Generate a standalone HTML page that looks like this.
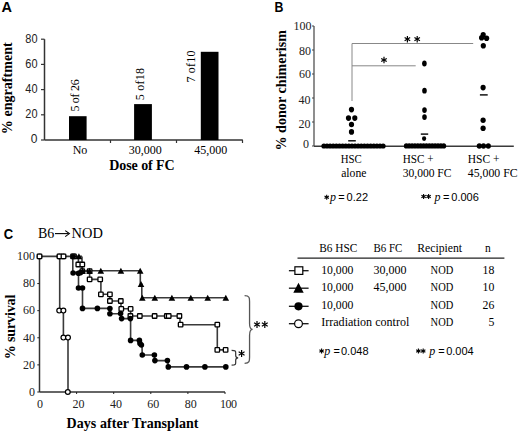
<!DOCTYPE html>
<html><head><meta charset="utf-8"><style>
html,body{margin:0;padding:0;background:#fff;}
body{width:520px;height:433px;overflow:hidden;font-family:"Liberation Serif", serif;}
svg{display:block;}
</style></head><body>
<svg width="520" height="433" viewBox="0 0 520 433">
<rect width="520" height="433" fill="#fff"/>
<text x="1.6" y="12" font-family='"Liberation Sans", sans-serif' font-size="14.5" font-weight="bold" font-style="normal" text-anchor="start" fill="#000">A</text>
<line x1="44.5" y1="39.2" x2="44.5" y2="140" stroke="#333" stroke-width="1.5"/>
<line x1="41" y1="140.0" x2="44.5" y2="140.0" stroke="#333" stroke-width="1.2"/>
<text x="37.5" y="143.4" font-family='"Liberation Sans", sans-serif' font-size="12" font-weight="normal" font-style="normal" text-anchor="end" fill="#222">0</text>
<line x1="41" y1="114.8" x2="44.5" y2="114.8" stroke="#333" stroke-width="1.2"/>
<text x="37.5" y="118.2" font-family='"Liberation Sans", sans-serif' font-size="12" font-weight="normal" font-style="normal" text-anchor="end" fill="#222" textLength="12.2" lengthAdjust="spacingAndGlyphs">20</text>
<line x1="41" y1="89.6" x2="44.5" y2="89.6" stroke="#333" stroke-width="1.2"/>
<text x="37.5" y="93.0" font-family='"Liberation Sans", sans-serif' font-size="12" font-weight="normal" font-style="normal" text-anchor="end" fill="#222" textLength="12.2" lengthAdjust="spacingAndGlyphs">40</text>
<line x1="41" y1="64.4" x2="44.5" y2="64.4" stroke="#333" stroke-width="1.2"/>
<text x="37.5" y="67.80000000000001" font-family='"Liberation Sans", sans-serif' font-size="12" font-weight="normal" font-style="normal" text-anchor="end" fill="#222" textLength="12.2" lengthAdjust="spacingAndGlyphs">60</text>
<line x1="41" y1="39.2" x2="44.5" y2="39.2" stroke="#333" stroke-width="1.2"/>
<text x="37.5" y="42.6" font-family='"Liberation Sans", sans-serif' font-size="12" font-weight="normal" font-style="normal" text-anchor="end" fill="#222" textLength="12.2" lengthAdjust="spacingAndGlyphs">80</text>
<line x1="44.5" y1="140" x2="242.8" y2="140" stroke="#333" stroke-width="1.5"/>
<line x1="110.5" y1="140" x2="110.5" y2="143" stroke="#333" stroke-width="1.2"/>
<line x1="176.5" y1="140" x2="176.5" y2="143" stroke="#333" stroke-width="1.2"/>
<line x1="242.5" y1="140" x2="242.5" y2="143" stroke="#333" stroke-width="1.2"/>
<rect x="69" y="116.2" width="17.6" height="23.799999999999997" fill="#000"/>
<rect x="134.1" y="104.1" width="17.8" height="35.900000000000006" fill="#000"/>
<rect x="200.8" y="51.8" width="17.7" height="88.2" fill="#000"/>
<text x="78.7" y="111.6" font-family='"Liberation Serif", serif' font-size="12" font-weight="normal" font-style="normal" text-anchor="start" fill="#000" textLength="32.4" lengthAdjust="spacing" transform="rotate(-90 78.7 111.6)">5 of 26</text>
<text x="143.7" y="100.2" font-family='"Liberation Serif", serif' font-size="12" font-weight="normal" font-style="normal" text-anchor="start" fill="#000" textLength="32.2" lengthAdjust="spacing" transform="rotate(-90 143.7 100.2)">5 of18</text>
<text x="195.4" y="82.6" font-family='"Liberation Serif", serif' font-size="12" font-weight="normal" font-style="normal" text-anchor="start" fill="#000" textLength="32.2" lengthAdjust="spacing" transform="rotate(-90 195.4 82.6)">7 of10</text>
<text x="80" y="154" font-family='"Liberation Serif", serif' font-size="12" font-weight="normal" font-style="normal" text-anchor="middle" fill="#000">No</text>
<text x="145.2" y="154" font-family='"Liberation Serif", serif' font-size="12" font-weight="normal" font-style="normal" text-anchor="middle" fill="#000">30,000</text>
<text x="210.8" y="154" font-family='"Liberation Serif", serif' font-size="12" font-weight="normal" font-style="normal" text-anchor="middle" fill="#000">45,000</text>
<text x="109.2" y="170" font-family='"Liberation Serif", serif' font-size="14" font-weight="bold" font-style="normal" text-anchor="start" fill="#000" textLength="65.5" lengthAdjust="spacing">Dose of FC</text>
<text x="12.4" y="134.2" font-family='"Liberation Serif", serif' font-size="14" font-weight="bold" font-style="normal" text-anchor="start" fill="#000" textLength="92" lengthAdjust="spacing" transform="rotate(-90 12.4 134.2)">% engraftment</text>
<text x="274.4" y="12" font-family='"Liberation Sans", sans-serif' font-size="14.2" font-weight="bold" font-style="normal" text-anchor="start" fill="#000" textLength="8.9" lengthAdjust="spacingAndGlyphs">B</text>
<line x1="314" y1="26" x2="314" y2="146" stroke="#444" stroke-width="1.2"/>
<line x1="312" y1="146.0" x2="314" y2="146.0" stroke="#444" stroke-width="1"/>
<line x1="312" y1="122.0" x2="314" y2="122.0" stroke="#444" stroke-width="1"/>
<line x1="312" y1="98.0" x2="314" y2="98.0" stroke="#444" stroke-width="1"/>
<line x1="312" y1="74.0" x2="314" y2="74.0" stroke="#444" stroke-width="1"/>
<line x1="312" y1="50.0" x2="314" y2="50.0" stroke="#444" stroke-width="1"/>
<line x1="312" y1="26.0" x2="314" y2="26.0" stroke="#444" stroke-width="1"/>
<text x="311.6" y="29.7" font-family='"Liberation Serif", serif' font-size="12" font-weight="normal" font-style="normal" text-anchor="end" fill="#222">100</text>
<text x="311.0" y="54.7" font-family='"Liberation Serif", serif' font-size="12" font-weight="normal" font-style="normal" text-anchor="end" fill="#222">80</text>
<text x="311.0" y="78.3" font-family='"Liberation Serif", serif' font-size="12" font-weight="normal" font-style="normal" text-anchor="end" fill="#222">60</text>
<text x="310.6" y="103.9" font-family='"Liberation Serif", serif' font-size="12" font-weight="normal" font-style="normal" text-anchor="end" fill="#222">40</text>
<text x="310.6" y="127.5" font-family='"Liberation Serif", serif' font-size="12" font-weight="normal" font-style="normal" text-anchor="end" fill="#222">20</text>
<text x="309.0" y="148.3" font-family='"Liberation Serif", serif' font-size="12" font-weight="normal" font-style="normal" text-anchor="end" fill="#222">0</text>
<line x1="314" y1="146.3" x2="513.8" y2="146.3" stroke="#3a3a3a" stroke-width="1.6"/>
<line x1="352" y1="43.5" x2="352" y2="101" stroke="#888" stroke-width="1"/>
<line x1="352" y1="43.5" x2="473.2" y2="43.5" stroke="#888" stroke-width="1"/>
<line x1="352" y1="65.8" x2="415.7" y2="65.8" stroke="#888" stroke-width="1"/>
<line x1="384.0" y1="56.8" x2="384.0" y2="63.2" stroke="#000" stroke-width="1.2"/>
<line x1="386.77" y1="58.4" x2="381.23" y2="61.6" stroke="#000" stroke-width="1.2"/>
<line x1="386.77" y1="61.6" x2="381.23" y2="58.4" stroke="#000" stroke-width="1.2"/>
<line x1="407.4" y1="36.0" x2="407.4" y2="42.4" stroke="#000" stroke-width="1.2"/>
<line x1="410.17" y1="37.6" x2="404.63" y2="40.8" stroke="#000" stroke-width="1.2"/>
<line x1="410.17" y1="40.8" x2="404.63" y2="37.6" stroke="#000" stroke-width="1.2"/>
<line x1="417.2" y1="36.0" x2="417.2" y2="42.4" stroke="#000" stroke-width="1.2"/>
<line x1="419.97" y1="37.6" x2="414.43" y2="40.8" stroke="#000" stroke-width="1.2"/>
<line x1="419.97" y1="40.8" x2="414.43" y2="37.6" stroke="#000" stroke-width="1.2"/>
<ellipse cx="323.9" cy="146.0" rx="2.55" ry="2.6" fill="#000"/>
<ellipse cx="327.02" cy="146.0" rx="2.55" ry="2.6" fill="#000"/>
<ellipse cx="330.13" cy="146.0" rx="2.55" ry="2.6" fill="#000"/>
<ellipse cx="333.25" cy="146.0" rx="2.55" ry="2.6" fill="#000"/>
<ellipse cx="336.36" cy="146.0" rx="2.55" ry="2.6" fill="#000"/>
<ellipse cx="339.48" cy="146.0" rx="2.55" ry="2.6" fill="#000"/>
<ellipse cx="342.6" cy="146.0" rx="2.55" ry="2.6" fill="#000"/>
<ellipse cx="345.71" cy="146.0" rx="2.55" ry="2.6" fill="#000"/>
<ellipse cx="348.83" cy="146.0" rx="2.55" ry="2.6" fill="#000"/>
<ellipse cx="351.94" cy="146.0" rx="2.55" ry="2.6" fill="#000"/>
<ellipse cx="355.06" cy="146.0" rx="2.55" ry="2.6" fill="#000"/>
<ellipse cx="358.18" cy="146.0" rx="2.55" ry="2.6" fill="#000"/>
<ellipse cx="361.29" cy="146.0" rx="2.55" ry="2.6" fill="#000"/>
<ellipse cx="364.41" cy="146.0" rx="2.55" ry="2.6" fill="#000"/>
<ellipse cx="367.52" cy="146.0" rx="2.55" ry="2.6" fill="#000"/>
<ellipse cx="370.64" cy="146.0" rx="2.55" ry="2.6" fill="#000"/>
<ellipse cx="373.76" cy="146.0" rx="2.55" ry="2.6" fill="#000"/>
<ellipse cx="376.87" cy="146.0" rx="2.55" ry="2.6" fill="#000"/>
<ellipse cx="379.99" cy="146.0" rx="2.55" ry="2.6" fill="#000"/>
<ellipse cx="383.1" cy="146.0" rx="2.55" ry="2.6" fill="#000"/>
<ellipse cx="351.5" cy="109.6" rx="2.6" ry="2.8" fill="#000"/>
<ellipse cx="348.5" cy="118.1" rx="2.6" ry="2.8" fill="#000"/>
<ellipse cx="354.8" cy="118.1" rx="2.6" ry="2.8" fill="#000"/>
<ellipse cx="351.5" cy="124.5" rx="2.6" ry="2.8" fill="#000"/>
<ellipse cx="351.5" cy="131.9" rx="2.6" ry="2.8" fill="#000"/>
<line x1="348.2" y1="140.8" x2="355.8" y2="140.8" stroke="#000" stroke-width="1.4"/>
<ellipse cx="406.3" cy="145.9" rx="2.45" ry="2.6" fill="#000"/>
<ellipse cx="409.18" cy="145.9" rx="2.45" ry="2.6" fill="#000"/>
<ellipse cx="412.06" cy="145.9" rx="2.45" ry="2.6" fill="#000"/>
<ellipse cx="414.94" cy="145.9" rx="2.45" ry="2.6" fill="#000"/>
<ellipse cx="417.82" cy="145.9" rx="2.45" ry="2.6" fill="#000"/>
<ellipse cx="420.7" cy="145.9" rx="2.45" ry="2.6" fill="#000"/>
<ellipse cx="423.58" cy="145.9" rx="2.45" ry="2.6" fill="#000"/>
<ellipse cx="426.46" cy="145.9" rx="2.45" ry="2.6" fill="#000"/>
<ellipse cx="429.34" cy="145.9" rx="2.45" ry="2.6" fill="#000"/>
<ellipse cx="432.22" cy="145.9" rx="2.45" ry="2.6" fill="#000"/>
<ellipse cx="435.1" cy="145.9" rx="2.45" ry="2.6" fill="#000"/>
<ellipse cx="437.98" cy="145.9" rx="2.45" ry="2.6" fill="#000"/>
<ellipse cx="440.86" cy="145.9" rx="2.45" ry="2.6" fill="#000"/>
<ellipse cx="443.74" cy="145.9" rx="2.45" ry="2.6" fill="#000"/>
<ellipse cx="424.4" cy="63.5" rx="2.3" ry="2.9" fill="#000"/>
<ellipse cx="424.5" cy="90.7" rx="2.3" ry="2.9" fill="#000"/>
<ellipse cx="424.5" cy="110.1" rx="2.3" ry="2.9" fill="#000"/>
<ellipse cx="424.5" cy="117.1" rx="2.3" ry="2.9" fill="#000"/>
<ellipse cx="424.1" cy="138.6" rx="2.1" ry="2.3" fill="#000"/>
<line x1="420.8" y1="134.1" x2="428.2" y2="134.1" stroke="#000" stroke-width="1.4"/>
<ellipse cx="479.3" cy="146" rx="2.6" ry="2.8" fill="#000"/>
<ellipse cx="483.5" cy="146" rx="2.6" ry="2.8" fill="#000"/>
<ellipse cx="488.3" cy="146" rx="2.6" ry="2.8" fill="#000"/>
<ellipse cx="483.2" cy="34.8" rx="2.6" ry="2.8" fill="#000"/>
<ellipse cx="486.6" cy="38.2" rx="2.6" ry="2.8" fill="#000"/>
<ellipse cx="481.6" cy="37.7" rx="2.6" ry="2.8" fill="#000"/>
<ellipse cx="483.3" cy="45.8" rx="2.6" ry="2.8" fill="#000"/>
<ellipse cx="483.1" cy="87.6" rx="2.6" ry="2.8" fill="#000"/>
<ellipse cx="483.1" cy="120.2" rx="2.6" ry="2.8" fill="#000"/>
<ellipse cx="483.1" cy="128.2" rx="2.6" ry="2.8" fill="#000"/>
<line x1="479.9" y1="94.9" x2="487.7" y2="94.9" stroke="#000" stroke-width="1.4"/>
<text x="351.3" y="162.5" font-family='"Liberation Serif", serif' font-size="11.5" font-weight="normal" font-style="normal" text-anchor="middle" fill="#000" textLength="21" lengthAdjust="spacingAndGlyphs">HSC</text>
<text x="341.2" y="176.5" font-family='"Liberation Serif", serif' font-size="12" font-weight="normal" font-style="normal" text-anchor="start" fill="#000" textLength="25.3" lengthAdjust="spacingAndGlyphs">alone</text>
<text x="402.7" y="162.5" font-family='"Liberation Serif", serif' font-size="11.5" font-weight="normal" font-style="normal" text-anchor="start" fill="#000" textLength="30.8" lengthAdjust="spacingAndGlyphs">HSC +</text>
<text x="402.7" y="176.5" font-family='"Liberation Serif", serif' font-size="11.5" font-weight="normal" font-style="normal" text-anchor="start" fill="#000" textLength="48.8" lengthAdjust="spacingAndGlyphs">30,000 FC</text>
<text x="467.8" y="162.5" font-family='"Liberation Serif", serif' font-size="11.5" font-weight="normal" font-style="normal" text-anchor="start" fill="#000" textLength="31.8" lengthAdjust="spacingAndGlyphs">HSC +</text>
<text x="467.8" y="176.5" font-family='"Liberation Serif", serif' font-size="11.5" font-weight="normal" font-style="normal" text-anchor="start" fill="#000" textLength="49.8" lengthAdjust="spacingAndGlyphs">45,000 FC</text>
<text x="286.0" y="150.5" font-family='"Liberation Serif", serif' font-size="14" font-weight="bold" font-style="normal" text-anchor="start" fill="#000" textLength="120.5" lengthAdjust="spacing" transform="rotate(-90 286.0 150.5)">% donor chimerism</text>
<text x="3.7" y="238.6" font-family='"Liberation Sans", sans-serif' font-size="15" font-weight="bold" font-style="normal" text-anchor="start" fill="#000" textLength="9.4" lengthAdjust="spacingAndGlyphs">C</text>
<text x="38.0" y="237.6" font-family='"Liberation Serif", serif' font-size="14" font-weight="normal" font-style="normal" text-anchor="start" fill="#000">B6</text>
<line x1="55" y1="233.6" x2="68.5" y2="233.6" stroke="#000" stroke-width="1.1"/>
<path d="M65.2,230.6 L69.4,233.6 L65.2,236.6" stroke="#000" stroke-width="1.1" fill="none"/>
<text x="71.6" y="237.6" font-family='"Liberation Serif", serif' font-size="14" font-weight="normal" font-style="normal" text-anchor="start" fill="#000" textLength="31.2" lengthAdjust="spacingAndGlyphs">NOD</text>
<line x1="39.5" y1="255.5" x2="39.5" y2="392" stroke="#333" stroke-width="1.5"/>
<line x1="39.5" y1="392" x2="225" y2="392" stroke="#333" stroke-width="1.5"/>
<line x1="37.3" y1="392.0" x2="39.5" y2="392.0" stroke="#222" stroke-width="1"/>
<text x="35" y="395.8" font-family='"Liberation Serif", serif' font-size="12" font-weight="normal" font-style="normal" text-anchor="end" fill="#222">0</text>
<line x1="37.3" y1="364.89" x2="39.5" y2="364.89" stroke="#222" stroke-width="1"/>
<text x="35" y="368.69" font-family='"Liberation Serif", serif' font-size="12" font-weight="normal" font-style="normal" text-anchor="end" fill="#222">20</text>
<line x1="37.3" y1="337.78" x2="39.5" y2="337.78" stroke="#222" stroke-width="1"/>
<text x="35" y="341.58" font-family='"Liberation Serif", serif' font-size="12" font-weight="normal" font-style="normal" text-anchor="end" fill="#222">40</text>
<line x1="37.3" y1="310.67" x2="39.5" y2="310.67" stroke="#222" stroke-width="1"/>
<text x="35" y="314.47" font-family='"Liberation Serif", serif' font-size="12" font-weight="normal" font-style="normal" text-anchor="end" fill="#222">60</text>
<line x1="37.3" y1="283.56" x2="39.5" y2="283.56" stroke="#222" stroke-width="1"/>
<text x="35" y="287.36" font-family='"Liberation Serif", serif' font-size="12" font-weight="normal" font-style="normal" text-anchor="end" fill="#222">80</text>
<line x1="37.3" y1="256.45000000000005" x2="39.5" y2="256.45000000000005" stroke="#222" stroke-width="1"/>
<text x="35" y="260.25000000000006" font-family='"Liberation Serif", serif' font-size="12" font-weight="normal" font-style="normal" text-anchor="end" fill="#222">100</text>
<line x1="76.6" y1="392" x2="76.6" y2="394" stroke="#222" stroke-width="1"/>
<line x1="113.7" y1="392" x2="113.7" y2="394" stroke="#222" stroke-width="1"/>
<line x1="150.8" y1="392" x2="150.8" y2="394" stroke="#222" stroke-width="1"/>
<line x1="187.9" y1="392" x2="187.9" y2="394" stroke="#222" stroke-width="1"/>
<line x1="225.0" y1="392" x2="225.0" y2="394" stroke="#222" stroke-width="1"/>
<text x="40.0" y="407.5" font-family='"Liberation Serif", serif' font-size="12" font-weight="normal" font-style="normal" text-anchor="middle" fill="#222">0</text>
<text x="78.6" y="407.5" font-family='"Liberation Serif", serif' font-size="12" font-weight="normal" font-style="normal" text-anchor="middle" fill="#222">20</text>
<text x="116.10000000000001" y="407.5" font-family='"Liberation Serif", serif' font-size="12" font-weight="normal" font-style="normal" text-anchor="middle" fill="#222">40</text>
<text x="153.3" y="407.5" font-family='"Liberation Serif", serif' font-size="12" font-weight="normal" font-style="normal" text-anchor="middle" fill="#222">60</text>
<text x="190.8" y="407.5" font-family='"Liberation Serif", serif' font-size="12" font-weight="normal" font-style="normal" text-anchor="middle" fill="#222">80</text>
<text x="228.5" y="407.5" font-family='"Liberation Serif", serif' font-size="12" font-weight="normal" font-style="normal" text-anchor="middle" fill="#222" textLength="17.2" lengthAdjust="spacing">100</text>
<text x="15.3" y="359.2" font-family='"Liberation Serif", serif' font-size="14" font-weight="bold" font-style="normal" text-anchor="start" fill="#000" textLength="64.5" lengthAdjust="spacing" transform="rotate(-90 15.3 359.2)">% survival</text>
<text x="66.5" y="428.2" font-family='"Liberation Serif", serif' font-size="14" font-weight="bold" font-style="normal" text-anchor="start" fill="#000" textLength="132" lengthAdjust="spacing">Days after Transplant</text>
<path d="M39.5,256.4 L82,256.4" stroke="#3a3a3a" stroke-width="1.6" fill="none"/>
<path d="M59.7,256.4 L59.7,310.6 L63.4,310.6 L63.4,337.6 L68,337.6 L68,392" stroke="#3a3a3a" stroke-width="1.6" fill="none"/>
<path d="M72.8,256.4 L72.8,272.6 L78.5,272.6 L78.5,288 L82.5,288 L82.5,308.4 L109.9,308.4 L109.9,313.7 L121.2,313.7 L121.2,318.6 L130.6,318.6 L130.6,340.4 L139.6,340.4 L140.5,344 L142,345 L142.2,355 L154.6,355 L154.6,360.6 L168,360.6 L168,366.9 L225.8,366.9" stroke="#3a3a3a" stroke-width="1.6" fill="none"/>
<path d="M82,256.4 L82,270.8 L140.3,270.8 L140.3,284.2 L141.8,284.2 L141.8,297.8 L225.8,297.8" stroke="#3a3a3a" stroke-width="1.6" fill="none"/>
<path d="M78.4,256.4 L78.4,264.5 L82.3,264.5 L82.3,271.2 L89.6,271.2 L89.6,279.4 L100.9,279.4 L100.9,294.3 L109.9,294.3 L109.9,301 L121,301 L121,308.8 L130.6,308.8 L130.6,316 L180,316 L180,324.7 L217.3,324.7 L217.3,349.9 L225.5,349.9" stroke="#3a3a3a" stroke-width="1.6" fill="none"/>
<rect x="70.75" y="254.15" width="4.5" height="4.5" rx="0.6" fill="#fff" stroke="#000" stroke-width="1.3"/>
<rect x="71.75" y="254.15" width="4.5" height="4.5" rx="0.6" fill="#fff" stroke="#000" stroke-width="1.3"/>
<rect x="76.05" y="262.25" width="4.5" height="4.5" rx="0.6" fill="#fff" stroke="#000" stroke-width="1.3"/>
<rect x="80.05" y="262.25" width="4.5" height="4.5" rx="0.6" fill="#fff" stroke="#000" stroke-width="1.3"/>
<rect x="80.05" y="268.95" width="4.5" height="4.5" rx="0.6" fill="#fff" stroke="#000" stroke-width="1.3"/>
<rect x="87.35" y="268.95" width="4.5" height="4.5" rx="0.6" fill="#fff" stroke="#000" stroke-width="1.3"/>
<rect x="87.35" y="277.15" width="4.5" height="4.5" rx="0.6" fill="#fff" stroke="#000" stroke-width="1.3"/>
<rect x="97.95" y="277.15" width="4.5" height="4.5" rx="0.6" fill="#fff" stroke="#000" stroke-width="1.3"/>
<rect x="98.65" y="292.05" width="4.5" height="4.5" rx="0.6" fill="#fff" stroke="#000" stroke-width="1.3"/>
<rect x="107.65" y="292.05" width="4.5" height="4.5" rx="0.6" fill="#fff" stroke="#000" stroke-width="1.3"/>
<rect x="107.65" y="298.75" width="4.5" height="4.5" rx="0.6" fill="#fff" stroke="#000" stroke-width="1.3"/>
<rect x="118.55" y="298.75" width="4.5" height="4.5" rx="0.6" fill="#fff" stroke="#000" stroke-width="1.3"/>
<rect x="119.05" y="306.65" width="4.5" height="4.5" rx="0.6" fill="#fff" stroke="#000" stroke-width="1.3"/>
<rect x="128.35" y="306.65" width="4.5" height="4.5" rx="0.6" fill="#fff" stroke="#000" stroke-width="1.3"/>
<rect x="128.15" y="313.75" width="4.5" height="4.5" rx="0.6" fill="#fff" stroke="#000" stroke-width="1.3"/>
<rect x="137.55" y="313.75" width="4.5" height="4.5" rx="0.6" fill="#fff" stroke="#000" stroke-width="1.3"/>
<rect x="152.35" y="313.75" width="4.5" height="4.5" rx="0.6" fill="#fff" stroke="#000" stroke-width="1.3"/>
<rect x="164.55" y="313.75" width="4.5" height="4.5" rx="0.6" fill="#fff" stroke="#000" stroke-width="1.3"/>
<rect x="166.45" y="313.75" width="4.5" height="4.5" rx="0.6" fill="#fff" stroke="#000" stroke-width="1.3"/>
<rect x="177.15" y="313.75" width="4.5" height="4.5" rx="0.6" fill="#fff" stroke="#000" stroke-width="1.3"/>
<rect x="178.35" y="322.45" width="4.5" height="4.5" rx="0.6" fill="#fff" stroke="#000" stroke-width="1.3"/>
<rect x="215.05" y="322.45" width="4.5" height="4.5" rx="0.6" fill="#fff" stroke="#000" stroke-width="1.3"/>
<rect x="215.05" y="347.65" width="4.5" height="4.5" rx="0.6" fill="#fff" stroke="#000" stroke-width="1.3"/>
<rect x="223.35" y="347.65" width="4.5" height="4.5" rx="0.6" fill="#fff" stroke="#000" stroke-width="1.3"/>
<circle cx="39.5" cy="256.4" r="2.2" fill="#fff" stroke="#000" stroke-width="1.2"/>
<circle cx="59.4" cy="256.4" r="2.2" fill="#fff" stroke="#000" stroke-width="1.2"/>
<circle cx="63.4" cy="256.4" r="2.2" fill="#fff" stroke="#000" stroke-width="1.2"/>
<rect x="37.20" y="254.10" width="4.6" height="4.6" rx="0.6" fill="#fff" stroke="#000" stroke-width="1.3"/>
<rect x="57.20" y="254.10" width="4.6" height="4.6" rx="0.6" fill="#fff" stroke="#000" stroke-width="1.3"/>
<rect x="61.20" y="254.10" width="4.6" height="4.6" rx="0.6" fill="#fff" stroke="#000" stroke-width="1.3"/>
<circle cx="59.2" cy="310.6" r="2.4" fill="#fff" stroke="#000" stroke-width="1.2"/>
<circle cx="63.4" cy="310.6" r="2.4" fill="#fff" stroke="#000" stroke-width="1.2"/>
<circle cx="63.4" cy="337.6" r="2.4" fill="#fff" stroke="#000" stroke-width="1.2"/>
<circle cx="68" cy="337.6" r="2.4" fill="#fff" stroke="#000" stroke-width="1.2"/>
<circle cx="67.8" cy="392" r="2.4" fill="#fff" stroke="#000" stroke-width="1.2"/>
<circle cx="73.0" cy="256.4" r="2.1" fill="#000"/>
<circle cx="74.0" cy="256.4" r="2.1" fill="#000"/>
<circle cx="73.1" cy="273.0" r="2.8" fill="#000"/>
<circle cx="78.4" cy="273.2" r="2.8" fill="#000"/>
<circle cx="80.6" cy="272.6" r="2.8" fill="#000"/>
<circle cx="78.5" cy="288" r="2.8" fill="#000"/>
<circle cx="82.5" cy="288" r="2.8" fill="#000"/>
<circle cx="82.5" cy="308.4" r="2.8" fill="#000"/>
<circle cx="97.4" cy="308.4" r="2.8" fill="#000"/>
<circle cx="109.9" cy="308.6" r="2.8" fill="#000"/>
<circle cx="109.9" cy="313.8" r="2.8" fill="#000"/>
<circle cx="120.6" cy="313.5" r="2.8" fill="#000"/>
<circle cx="121.6" cy="318.6" r="2.8" fill="#000"/>
<circle cx="130.4" cy="318.6" r="2.8" fill="#000"/>
<circle cx="130.6" cy="340.4" r="2.8" fill="#000"/>
<circle cx="139.4" cy="340.4" r="2.8" fill="#000"/>
<circle cx="140" cy="343.5" r="2.8" fill="#000"/>
<circle cx="141.4" cy="345" r="2.8" fill="#000"/>
<circle cx="142.3" cy="355" r="2.8" fill="#000"/>
<circle cx="154.4" cy="355" r="2.8" fill="#000"/>
<circle cx="154.9" cy="360.6" r="2.8" fill="#000"/>
<circle cx="167.4" cy="360.6" r="2.8" fill="#000"/>
<circle cx="168.3" cy="366.9" r="2.8" fill="#000"/>
<circle cx="186.5" cy="366.9" r="2.8" fill="#000"/>
<circle cx="204.9" cy="366.9" r="2.8" fill="#000"/>
<circle cx="225.8" cy="366.9" r="2.8" fill="#000"/>
<path d="M78.90,253.28 L82.20,259.28 L75.60,259.28 Z" fill="#000"/>
<path d="M82.60,267.68 L85.90,273.68 L79.30,273.68 Z" fill="#000"/>
<path d="M89.50,267.68 L92.80,273.68 L86.20,273.68 Z" fill="#000"/>
<path d="M100.80,267.68 L104.10,273.68 L97.50,273.68 Z" fill="#000"/>
<path d="M120.90,267.68 L124.20,273.68 L117.60,273.68 Z" fill="#000"/>
<path d="M140.20,267.68 L143.50,273.68 L136.90,273.68 Z" fill="#000"/>
<path d="M141.00,281.08 L144.30,287.08 L137.70,287.08 Z" fill="#000"/>
<path d="M142.30,294.68 L145.60,300.68 L139.00,300.68 Z" fill="#000"/>
<path d="M154.80,294.68 L158.10,300.68 L151.50,300.68 Z" fill="#000"/>
<path d="M171.90,294.68 L175.20,300.68 L168.60,300.68 Z" fill="#000"/>
<path d="M190.80,294.68 L194.10,300.68 L187.50,300.68 Z" fill="#000"/>
<path d="M207.70,294.68 L211.00,300.68 L204.40,300.68 Z" fill="#000"/>
<path d="M225.80,294.68 L229.10,300.68 L222.50,300.68 Z" fill="#000"/>
<path d="M244.6,295.6 C249.56,295.6 249.56,298.0 249.56,301.6 L249.56,323.45000000000005 C249.56,327.05000000000007 250.36,329.45000000000005 252.6,329.45000000000005 C250.36,329.45000000000005 249.56,331.85 249.56,335.45000000000005 L249.56,357.3 C249.56,360.90000000000003 249.56,363.3 244.6,363.3" stroke="#555" stroke-width="1.3" fill="none"/>
<path d="M231.6,350.4 C235.692,350.4 235.692,351.3472 235.692,352.768 L235.692,355.43199999999996 C235.692,356.85279999999995 236.352,357.79999999999995 238.2,357.79999999999995 C236.352,357.79999999999995 235.692,358.74719999999996 235.692,360.16799999999995 L235.692,362.832 C235.692,364.2528 235.692,365.2 231.6,365.2" stroke="#333" stroke-width="1.2" fill="none"/>
<line x1="257.0" y1="321.1" x2="257.0" y2="327.9" stroke="#000" stroke-width="1.2"/>
<line x1="259.94" y1="322.8" x2="254.06" y2="326.2" stroke="#000" stroke-width="1.2"/>
<line x1="259.94" y1="326.2" x2="254.06" y2="322.8" stroke="#000" stroke-width="1.2"/>
<line x1="264.8" y1="321.1" x2="264.8" y2="327.9" stroke="#000" stroke-width="1.2"/>
<line x1="267.74" y1="322.8" x2="261.86" y2="326.2" stroke="#000" stroke-width="1.2"/>
<line x1="267.74" y1="326.2" x2="261.86" y2="322.8" stroke="#000" stroke-width="1.2"/>
<line x1="241.6" y1="350.1" x2="241.6" y2="356.9" stroke="#000" stroke-width="1.2"/>
<line x1="244.54" y1="351.8" x2="238.66" y2="355.2" stroke="#000" stroke-width="1.2"/>
<line x1="244.54" y1="355.2" x2="238.66" y2="351.8" stroke="#000" stroke-width="1.2"/>
<line x1="288.9" y1="270.7" x2="308.6" y2="270.7" stroke="#111" stroke-width="1.3"/>
<line x1="288.9" y1="288.2" x2="308.6" y2="288.2" stroke="#111" stroke-width="1.3"/>
<line x1="288.9" y1="306.3" x2="308.6" y2="306.3" stroke="#111" stroke-width="1.3"/>
<line x1="288.9" y1="323.7" x2="308.6" y2="323.7" stroke="#111" stroke-width="1.3"/>
<rect x="294.9" y="266.8" width="7.9" height="7.6" fill="#fff" stroke="#000" stroke-width="1.2"/>
<path d="M298.5,282.7 L303.7,292.8 L293.3,292.8 Z" fill="#000"/>
<circle cx="298.5" cy="306.3" r="4.1" fill="#000"/>
<circle cx="298.5" cy="323.7" r="3.9" fill="#fff" stroke="#000" stroke-width="1.2"/>
<line x1="297.5" y1="258.2" x2="504.4" y2="258.2" stroke="#222" stroke-width="1.3"/>
<text x="319.2" y="252.3" font-family='"Liberation Serif", serif' font-size="11.5" font-weight="normal" font-style="normal" text-anchor="start" fill="#000" textLength="38.1" lengthAdjust="spacingAndGlyphs">B6 HSC</text>
<text x="373.5" y="252.3" font-family='"Liberation Serif", serif' font-size="11.5" font-weight="normal" font-style="normal" text-anchor="start" fill="#000" textLength="28.8" lengthAdjust="spacingAndGlyphs">B6 FC</text>
<text x="417.2" y="252.3" font-family='"Liberation Serif", serif' font-size="11.5" font-weight="normal" font-style="normal" text-anchor="start" fill="#000" textLength="44.9" lengthAdjust="spacingAndGlyphs">Recipient</text>
<text x="485" y="252.3" font-family='"Liberation Serif", serif' font-size="11.5" font-weight="normal" font-style="normal" text-anchor="start" fill="#000">n</text>
<text x="321.2" y="273.6" font-family='"Liberation Serif", serif' font-size="11.8" font-weight="normal" font-style="normal" text-anchor="start" fill="#000" textLength="32.2" lengthAdjust="spacingAndGlyphs">10,000</text>
<text x="441.9" y="273.6" font-family='"Liberation Serif", serif' font-size="11.8" font-weight="normal" font-style="normal" text-anchor="middle" fill="#000" textLength="22.6" lengthAdjust="spacingAndGlyphs">NOD</text>
<text x="494.4" y="273.6" font-family='"Liberation Serif", serif' font-size="11.8" font-weight="normal" font-style="normal" text-anchor="end" fill="#000">18</text>
<text x="321.2" y="291.2" font-family='"Liberation Serif", serif' font-size="11.8" font-weight="normal" font-style="normal" text-anchor="start" fill="#000" textLength="32.2" lengthAdjust="spacingAndGlyphs">10,000</text>
<text x="441.9" y="291.2" font-family='"Liberation Serif", serif' font-size="11.8" font-weight="normal" font-style="normal" text-anchor="middle" fill="#000" textLength="22.6" lengthAdjust="spacingAndGlyphs">NOD</text>
<text x="494.4" y="291.2" font-family='"Liberation Serif", serif' font-size="11.8" font-weight="normal" font-style="normal" text-anchor="end" fill="#000">10</text>
<text x="321.2" y="308.7" font-family='"Liberation Serif", serif' font-size="11.8" font-weight="normal" font-style="normal" text-anchor="start" fill="#000" textLength="32.2" lengthAdjust="spacingAndGlyphs">10,000</text>
<text x="441.9" y="308.7" font-family='"Liberation Serif", serif' font-size="11.8" font-weight="normal" font-style="normal" text-anchor="middle" fill="#000" textLength="22.6" lengthAdjust="spacingAndGlyphs">NOD</text>
<text x="494.4" y="308.7" font-family='"Liberation Serif", serif' font-size="11.8" font-weight="normal" font-style="normal" text-anchor="end" fill="#000">26</text>
<text x="321.2" y="325.8" font-family='"Liberation Serif", serif' font-size="11.8" font-weight="normal" font-style="normal" text-anchor="start" fill="#000" textLength="88.2" lengthAdjust="spacingAndGlyphs">Irradiation control</text>
<text x="441.9" y="325.8" font-family='"Liberation Serif", serif' font-size="11.8" font-weight="normal" font-style="normal" text-anchor="middle" fill="#000" textLength="22.6" lengthAdjust="spacingAndGlyphs">NOD</text>
<text x="494.4" y="325.8" font-family='"Liberation Serif", serif' font-size="11.8" font-weight="normal" font-style="normal" text-anchor="end" fill="#000">5</text>
<text x="373.5" y="273.6" font-family='"Liberation Serif", serif' font-size="11.8" font-weight="normal" font-style="normal" text-anchor="start" fill="#000" textLength="33" lengthAdjust="spacingAndGlyphs">30,000</text>
<text x="373.5" y="291.2" font-family='"Liberation Serif", serif' font-size="11.8" font-weight="normal" font-style="normal" text-anchor="start" fill="#000" textLength="33" lengthAdjust="spacingAndGlyphs">45,000</text>
<line x1="326.7" y1="194.7" x2="326.7" y2="199.7" stroke="#000" stroke-width="1.1"/>
<line x1="328.87" y1="195.95" x2="324.53" y2="198.45" stroke="#000" stroke-width="1.1"/>
<line x1="328.87" y1="198.45" x2="324.53" y2="195.95" stroke="#000" stroke-width="1.1"/>
<text x="330.0" y="201.0" font-family='"Liberation Serif", serif' font-size="12" font-weight="normal" font-style="italic" text-anchor="start" fill="#000">p</text>
<text x="338.2" y="201.0" font-family='"Liberation Sans", sans-serif' font-size="11" font-weight="normal" font-style="normal" text-anchor="start" fill="#000">=</text>
<text x="346.6" y="201.0" font-family='"Liberation Sans", sans-serif' font-size="11" font-weight="normal" font-style="normal" text-anchor="start" fill="#000">0.22</text>
<line x1="423.6" y1="194.1" x2="423.6" y2="199.1" stroke="#000" stroke-width="1.1"/>
<line x1="425.77" y1="195.35" x2="421.43" y2="197.85" stroke="#000" stroke-width="1.1"/>
<line x1="425.77" y1="197.85" x2="421.43" y2="195.35" stroke="#000" stroke-width="1.1"/>
<line x1="428.6" y1="194.1" x2="428.6" y2="199.1" stroke="#000" stroke-width="1.1"/>
<line x1="430.77" y1="195.35" x2="426.43" y2="197.85" stroke="#000" stroke-width="1.1"/>
<line x1="430.77" y1="197.85" x2="426.43" y2="195.35" stroke="#000" stroke-width="1.1"/>
<text x="434.5" y="201.0" font-family='"Liberation Serif", serif' font-size="12" font-weight="normal" font-style="italic" text-anchor="start" fill="#000">p</text>
<text x="443.1" y="201.0" font-family='"Liberation Sans", sans-serif' font-size="11" font-weight="normal" font-style="normal" text-anchor="start" fill="#000">=</text>
<text x="451.3" y="201.0" font-family='"Liberation Sans", sans-serif' font-size="11" font-weight="normal" font-style="normal" text-anchor="start" fill="#000">0.006</text>
<line x1="321.6" y1="348.5" x2="321.6" y2="353.5" stroke="#000" stroke-width="1.1"/>
<line x1="323.77" y1="349.75" x2="319.43" y2="352.25" stroke="#000" stroke-width="1.1"/>
<line x1="323.77" y1="352.25" x2="319.43" y2="349.75" stroke="#000" stroke-width="1.1"/>
<text x="324.3" y="354.6" font-family='"Liberation Serif", serif' font-size="12" font-weight="normal" font-style="italic" text-anchor="start" fill="#000">p</text>
<text x="333.5" y="354.6" font-family='"Liberation Sans", sans-serif' font-size="11" font-weight="normal" font-style="normal" text-anchor="start" fill="#000">=</text>
<text x="341.0" y="354.6" font-family='"Liberation Sans", sans-serif' font-size="11" font-weight="normal" font-style="normal" text-anchor="start" fill="#000">0.048</text>
<line x1="418.4" y1="348.5" x2="418.4" y2="353.5" stroke="#000" stroke-width="1.1"/>
<line x1="420.57" y1="349.75" x2="416.23" y2="352.25" stroke="#000" stroke-width="1.1"/>
<line x1="420.57" y1="352.25" x2="416.23" y2="349.75" stroke="#000" stroke-width="1.1"/>
<line x1="423.2" y1="348.5" x2="423.2" y2="353.5" stroke="#000" stroke-width="1.1"/>
<line x1="425.37" y1="349.75" x2="421.03" y2="352.25" stroke="#000" stroke-width="1.1"/>
<line x1="425.37" y1="352.25" x2="421.03" y2="349.75" stroke="#000" stroke-width="1.1"/>
<text x="429.3" y="354.6" font-family='"Liberation Serif", serif' font-size="12" font-weight="normal" font-style="italic" text-anchor="start" fill="#000">p</text>
<text x="438.2" y="354.6" font-family='"Liberation Sans", sans-serif' font-size="11" font-weight="normal" font-style="normal" text-anchor="start" fill="#000">=</text>
<text x="446.2" y="354.6" font-family='"Liberation Sans", sans-serif' font-size="11" font-weight="normal" font-style="normal" text-anchor="start" fill="#000">0.004</text>
</svg>
</body></html>
